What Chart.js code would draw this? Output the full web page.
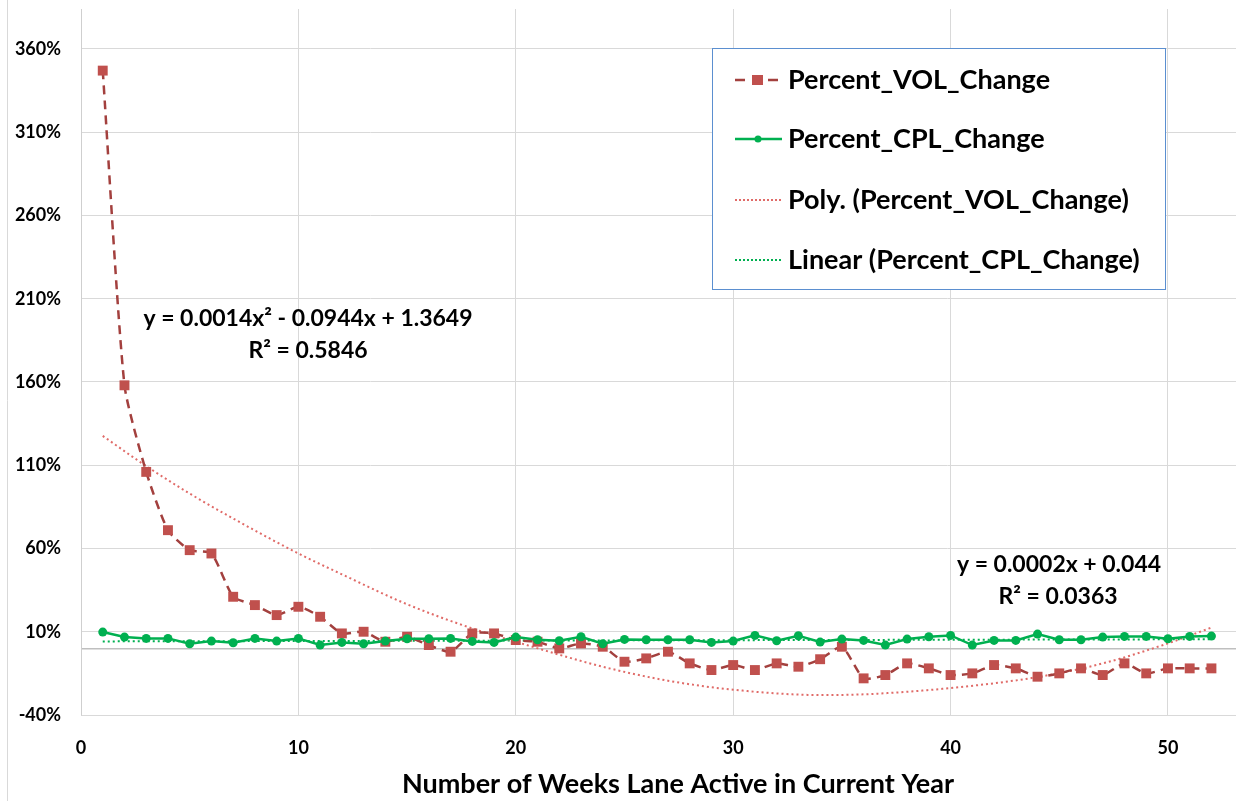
<!DOCTYPE html>
<html>
<head>
<meta charset="utf-8">
<script src="https://cdn.jsdelivr.net/npm/chart.js@4"></script>
<style>
  html, body { margin: 0; padding: 0; background: #fff; }
  #wrap { width: 1236px; height: 801px; position: relative; }
</style>
</head>
<body>
<div id="wrap"><canvas id="laneChart" width="1236" height="801"></canvas></div>
<script>
// ===================================
// DATA
// ===================================
const weeks = [1, 2, 3, 4, 5, 6, 7, 8, 9, 10, 11, 12, 13, 14, 15, 16, 17, 18, 19, 20, 21, 22, 23, 24, 25, 26,
    27, 28, 29, 30, 31, 32, 33, 34, 35, 36, 37, 38, 39, 40, 41, 42, 43, 44, 45, 46, 47, 48, 49, 50, 51, 52];

const volChange = [3.47, 1.58, 1.06, 0.71, 0.59, 0.57, 0.31, 0.26, 0.20, 0.25, 0.19, 0.09, 0.10, 0.04, 0.07, 0.02,
    -0.02, 0.09, 0.09, 0.05, 0.04, 0.00, 0.03, 0.01, -0.08, -0.06, -0.02, -0.09, -0.13, -0.10, -0.13, -0.09,
    -0.11, -0.065, 0.01, -0.18, -0.16, -0.09, -0.12, -0.16, -0.15, -0.10, -0.12, -0.17, -0.15, -0.12, -0.16,
    -0.09, -0.15, -0.12, -0.12, -0.12];

const cplChange = [0.098, 0.068, 0.06, 0.06, 0.028, 0.044, 0.034, 0.06, 0.044, 0.06, 0.02, 0.036, 0.028, 0.044,
    0.058, 0.058, 0.06, 0.042, 0.036, 0.068, 0.052, 0.046, 0.07, 0.028, 0.054, 0.052, 0.052, 0.052, 0.036, 0.044,
    0.078, 0.046, 0.076, 0.038, 0.056, 0.048, 0.02, 0.056, 0.07, 0.078, 0.02, 0.048, 0.048, 0.086, 0.052, 0.052,
    0.068, 0.072, 0.072, 0.058, 0.072, 0.074];

// trendlines
const polyWeeks = [1, 3, 5, 7, 10, 12, 15, 18, 20, 24, 27, 30, 34, 36, 40, 44, 47, 50, 52];
const polyVol = [1.276, 1.095, 0.93, 0.78, 0.57, 0.445, 0.265, 0.12, 0.04, -0.11, -0.194, -0.248, -0.28, -0.276,
    -0.238, -0.172, -0.09, 0.03, 0.125];
const linWeeks = [1, 52];
const linCpl = [0.042, 0.055];

const yTicks = [-0.4, 0.1, 0.6, 1.1, 1.6, 2.1, 2.6, 3.1, 3.6];
const xTicks = [0, 10, 20, 30, 40, 50];

const seriesNames = ['Percent_VOL_Change', 'Percent_CPL_Change', 'Poly. (Percent_VOL_Change)', 'Linear (Percent_CPL_Change)'];
const polyLabel = ['y = 0.0014x\u00B2 - 0.0944x + 1.3649', 'R\u00B2 = 0.5846'];
const linLabel = ['y = 0.0002x + 0.044', 'R\u00B2 = 0.0363'];
const xTitle = 'Number of Weeks Lane Active in Current Year';

// ===================================
// STYLE
// ===================================
const FONT = 'Lato, "Open Sans", sans-serif';
const RED = '#C0504D';
const RED_DARK = '#A3403E';
const RED_TREND = '#E06B68';
const GREEN = '#00B050';
const GRID = '#D9D9D9';

function toPoints(xs, ys) {
    return xs.map((x, i) => ({ x: x, y: ys[i] }));
}

// chart.js reserves room for end labels; the plot here runs to the edges
function noEdgePadding(scale) {
    scale.paddingTop = 0;
    scale.paddingBottom = 0;
    scale.paddingLeft = 0;
    scale.paddingRight = 0;
}

// ===================================
// PLUGIN: legend box, trend labels, axis title, frame
// ===================================
const extrasPlugin = {
    id: 'extras',
    beforeDraw(chart) {
        const ctx = chart.ctx;
        ctx.save();
        ctx.strokeStyle = GRID;
        ctx.lineWidth = 1;
        ctx.beginPath();
        ctx.moveTo(7.5, 0);
        ctx.lineTo(7.5, 801);
        ctx.stroke();
        ctx.restore();
    },
    afterDraw(chart) {
        const ctx = chart.ctx;
        ctx.save();

        // axis title (Excel centres it on the whole chart, not the plot)
        ctx.fillStyle = '#000';
        ctx.textAlign = 'center';
        ctx.textBaseline = 'middle';
        ctx.font = 'bold 27px ' + FONT;
        ctx.fillText(xTitle, 678, 784);

        // trendline equations
        ctx.font = 'bold 23px ' + FONT;
        ctx.fillText(polyLabel[0], 308, 319);
        ctx.fillText(polyLabel[1], 308, 351);
        ctx.fillText(linLabel[0], 1059, 565);
        ctx.fillText(linLabel[1], 1058, 597);

        // legend
        const bx = 712.5, by = 48.5, bw = 453, bh = 241;
        ctx.fillStyle = '#fff';
        ctx.fillRect(bx, by, bw, bh);
        ctx.strokeStyle = '#5B8FD0';
        ctx.lineWidth = 1;
        ctx.strokeRect(bx, by, bw, bh);

        const rows = [80, 139, 200, 260];
        const x0 = 735, x1 = 780;

        // VOL: dashed with square
        ctx.lineWidth = 2.5;
        ctx.strokeStyle = RED_DARK;
        ctx.beginPath();
        ctx.moveTo(x0, rows[0]); ctx.lineTo(x0 + 10, rows[0]);
        ctx.moveTo(x0 + 33, rows[0]); ctx.lineTo(x0 + 43, rows[0]);
        ctx.stroke();
        ctx.fillStyle = RED;
        ctx.fillRect(752, rows[0] - 5, 11, 10);

        // CPL: solid with dot
        ctx.strokeStyle = GREEN;
        ctx.beginPath();
        ctx.moveTo(x0, rows[1]); ctx.lineTo(x1 + 2, rows[1]);
        ctx.stroke();
        ctx.fillStyle = GREEN;
        ctx.beginPath();
        ctx.arc(758, rows[1], 3.5, 0, Math.PI * 2);
        ctx.fill();

        // trend samples
        ctx.lineWidth = 2;
        ctx.setLineDash([2, 2]);
        ctx.strokeStyle = RED_TREND;
        ctx.beginPath();
        ctx.moveTo(x0, rows[2]); ctx.lineTo(x1 + 2, rows[2]);
        ctx.stroke();
        ctx.strokeStyle = GREEN;
        ctx.beginPath();
        ctx.moveTo(x0, rows[3]); ctx.lineTo(x1 + 2, rows[3]);
        ctx.stroke();
        ctx.setLineDash([]);

        ctx.fillStyle = '#000';
        ctx.font = 'bold 27px ' + FONT;
        ctx.textAlign = 'left';
        seriesNames.forEach((name, i) => ctx.fillText(name, 788, rows[i]));

        ctx.restore();
    }
};

// ===================================
// CHART
// ===================================
const ctx = document.getElementById('laneChart').getContext('2d');

new Chart(ctx, {
    type: 'line',
    data: {
        datasets: [
            {
                label: seriesNames[1],
                data: toPoints(weeks, cplChange),
                borderColor: GREEN,
                backgroundColor: GREEN,
                borderWidth: 2.5,
                pointStyle: 'circle',
                pointRadius: 4.5,
                pointBorderWidth: 0,
                tension: 0,
                order: 0
            },
            {
                label: seriesNames[0],
                data: toPoints(weeks, volChange),
                borderColor: RED_DARK,
                backgroundColor: RED,
                borderWidth: 2.5,
                borderDash: [9, 6],
                pointStyle: 'rect',
                pointRadius: 7,
                pointBorderWidth: 0,
                tension: 0.2,
                order: 1
            },
            {
                label: seriesNames[2],
                data: toPoints(polyWeeks, polyVol),
                borderColor: RED_TREND,
                borderWidth: 2,
                borderDash: [2, 3],
                pointRadius: 0,
                cubicInterpolationMode: 'monotone',
                order: 2
            },
            {
                label: seriesNames[3],
                data: toPoints(linWeeks, linCpl),
                borderColor: GREEN,
                borderWidth: 2,
                borderDash: [2, 3],
                pointRadius: 0,
                order: 3
            }
        ]
    },
    options: {
        responsive: false,
        animation: false,
        layout: { autoPadding: false, padding: { top: 9, right: 0, left: 0, bottom: 0 } },
        plugins: {
            legend: { display: false },
            tooltip: { enabled: false }
        },
        scales: {
            x: {
                type: 'linear',
                min: 0,
                max: 53.13,
                afterBuildTicks: (scale) => { scale.ticks = xTicks.map(v => ({ value: v })); },
                afterFit: (scale) => { scale.height = 86; noEdgePadding(scale); },
                grid: { color: GRID, drawTicks: false },
                border: { color: GRID },
                ticks: {
                    color: '#000',
                    padding: 22,
                    maxRotation: 0,
                    font: { family: FONT, size: 18, weight: 'bold' }
                }
            },
            y: {
                min: -0.4,
                max: 3.84,
                afterBuildTicks: (scale) => {
                    scale.ticks = [0].concat(yTicks).map(v => ({ value: v }));
                },
                afterFit: (scale) => { scale.width = 81; noEdgePadding(scale); },
                grid: {
                    drawTicks: false,
                    color: (c) => (c.tick && c.tick.value === 0 ? '#BFBFBF' : GRID),
                    lineWidth: (c) => (c.tick && c.tick.value === 0 ? 1.5 : 1)
                },
                border: { color: '#CFCFCF' },
                ticks: {
                    color: '#000',
                    padding: 20,
                    font: { family: FONT, size: 18, weight: 'bold' },
                    callback: (v) => (v === 0 ? '' : Math.round(v * 100) + '%')
                }
            }
        }
    },
    plugins: [extrasPlugin]
});
</script>
</body>
</html>
